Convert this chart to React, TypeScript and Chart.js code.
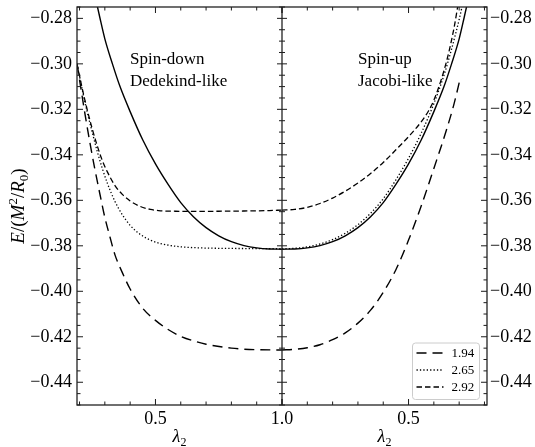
import React, { useEffect, useRef } from "react";
import { Chart, registerables } from "chart.js";

Chart.register(...registerables);

const FONT = '"Liberation Serif", "Times New Roman", serif';

// ---- axes ----
const Y_MIN = -0.45;
const Y_MAX = -0.275;
const yMajorTicks = [-0.44, -0.42, -0.4, -0.38, -0.36, -0.34, -0.32, -0.3, -0.28];
const yMinorStep = 0.005;

// left panel: lambda 0.19 -> 1.0 ; right panel mirrored: 1.0 -> 0.19 (axis value = 2 - lambda)
const LAMBDA_MIN = 0.19;
const xMajorLambda = [0.5, 1.0];
const xMinorLambda = [0.2, 0.3, 0.4, 0.5, 0.6, 0.7, 0.8, 0.9, 1.0];

const legendLabels = ["1.94", "2.65", "2.92"];
const panelLabels = [
  ["Spin-down", "Dedekind-like"],
  ["Spin-up", "Jacobi-like"],
];

// ---- solid curve (same on both panels) ----
const lamSolid = [0.26, 0.28, 0.3, 0.33, 0.36, 0.4, 0.45, 0.5, 0.55, 0.6, 0.65, 0.7, 0.75, 0.8, 0.85, 0.9, 0.95, 1.0];
const eSolid = [-0.2695, -0.2795, -0.289, -0.3, -0.31, -0.321, -0.3335, -0.344, -0.353, -0.361, -0.3672, -0.372, -0.3756, -0.3782, -0.3799, -0.3809, -0.3814, -0.3815];

// ---- left panel (spin-down, Dedekind-like) ----
const lamL194 = [0.19, 0.2, 0.22, 0.24, 0.26, 0.28, 0.3, 0.32, 0.34, 0.37, 0.4, 0.45, 0.5, 0.55, 0.6, 0.65, 0.7, 0.8, 0.9, 1.0];
const eL194 = [-0.3, -0.307, -0.321, -0.334, -0.346, -0.357, -0.3675, -0.376, -0.384, -0.392, -0.399, -0.4075, -0.4128, -0.4168, -0.4198, -0.4218, -0.4233, -0.425, -0.4257, -0.4258];

const lamL265 = [0.19, 0.21, 0.23, 0.25, 0.27, 0.29, 0.31, 0.34, 0.37, 0.4, 0.44, 0.48, 0.52, 0.58, 0.65, 0.75, 0.85, 1.0];
const eL265 = [-0.3, -0.311, -0.321, -0.33, -0.3385, -0.346, -0.3525, -0.3605, -0.3665, -0.371, -0.375, -0.3775, -0.379, -0.3802, -0.3808, -0.3811, -0.3812, -0.3813];

const lamL292 = [0.19, 0.21, 0.23, 0.25, 0.27, 0.29, 0.31, 0.34, 0.37, 0.4, 0.44, 0.48, 0.52, 0.58, 0.65, 0.75, 0.85, 0.95, 1.0];
const eL292 = [-0.3, -0.3105, -0.32, -0.3285, -0.336, -0.3425, -0.3475, -0.3535, -0.3575, -0.3603, -0.3627, -0.364, -0.3646, -0.3648, -0.3649, -0.3648, -0.3647, -0.3645, -0.3643];

// ---- right panel (spin-up, Jacobi-like) ----
const lamR194 = [1.0, 0.95, 0.9, 0.85, 0.8, 0.75, 0.7, 0.65, 0.6, 0.55, 0.5, 0.45, 0.4, 0.35, 0.32, 0.295];
const eR194 = [-0.4258, -0.4255, -0.4248, -0.4235, -0.4213, -0.4183, -0.414, -0.4083, -0.4005, -0.3905, -0.3775, -0.3625, -0.346, -0.329, -0.3175, -0.306];

const lamR265 = [1.0, 0.95, 0.9, 0.85, 0.8, 0.75, 0.7, 0.65, 0.6, 0.55, 0.5, 0.45, 0.4, 0.36, 0.33, 0.3, 0.28];
const eR265 = [-0.3813, -0.3811, -0.3805, -0.3792, -0.3773, -0.3745, -0.3707, -0.3657, -0.3593, -0.351, -0.3415, -0.3305, -0.3175, -0.305, -0.2935, -0.2805, -0.2705];

const lamR292 = [1.0, 0.95, 0.9, 0.85, 0.8, 0.75, 0.7, 0.65, 0.6, 0.55, 0.5, 0.45, 0.42, 0.4, 0.38, 0.36, 0.34, 0.32, 0.3];
const eR292 = [-0.3643, -0.364, -0.3631, -0.3614, -0.359, -0.356, -0.3524, -0.3482, -0.3434, -0.3378, -0.332, -0.3255, -0.3205, -0.316, -0.31, -0.303, -0.2945, -0.284, -0.271];

const toAxisX = (lam: number, mirror: boolean) => (mirror ? 2 - lam : lam);
const pts = (lam: number[], e: number[], mirror: boolean) =>
  lam.map((l, i) => ({ x: toAxisX(l, mirror), y: e[i] }));

const dashFor: Record<string, number[]> = {
  solid: [],
  "1.94": [10, 6],
  "2.65": [1.3, 2.1],
  "2.92": [5.5, 3],
};

const mk = (data: any[], key: string, width: number) => ({
  data,
  borderColor: "#000",
  borderWidth: width,
  borderDash: dashFor[key],
  borderCapStyle: "butt" as const,
  pointRadius: 0,
  fill: false,
  cubicInterpolationMode: "monotone" as const,
  clip: 0,
});

const framePlugin = {
  id: "frameTicks",
  afterDatasetsDraw(chart: any) {
    const { ctx, chartArea: a } = chart;
    const xs = chart.scales.x;
    const ys = chart.scales.y;
    const xm = xs.getPixelForValue(1.0);
    ctx.save();
    ctx.strokeStyle = "#1a1a1a";
    ctx.lineWidth = 1;
    const MAJ = 6;
    const MIN = 3.5;
    ctx.beginPath();
    const nLo = Math.ceil(Y_MIN / yMinorStep - 1e-9);
    const nHi = Math.floor(Y_MAX / yMinorStep + 1e-9);
    for (let k = nLo; k <= nHi; k++) {
      const v = k * yMinorStep;
      const major = yMajorTicks.some((t) => Math.abs(t - v) < 1e-9);
      const L = major ? MAJ : MIN;
      const py = ys.getPixelForValue(v);
      ctx.moveTo(a.left, py);
      ctx.lineTo(a.left + L, py);
      ctx.moveTo(a.right, py);
      ctx.lineTo(a.right - L, py);
      ctx.moveTo(xm - (major ? 5 : 3), py);
      ctx.lineTo(xm + (major ? 5 : 3), py);
    }
    for (const l of xMinorLambda) {
      const major = xMajorLambda.some((t) => Math.abs(t - l) < 1e-9);
      const L = major ? MAJ : MIN;
      for (const xv of [toAxisX(l, false), toAxisX(l, true)]) {
        const px = xs.getPixelForValue(xv);
        ctx.moveTo(px, a.bottom);
        ctx.lineTo(px, a.bottom - L);
        ctx.moveTo(px, a.top);
        ctx.lineTo(px, a.top + L);
      }
    }
    ctx.stroke();
    ctx.lineWidth = 1.3;
    ctx.strokeStyle = "#222";
    ctx.strokeRect(a.left, a.top, a.right - a.left, a.bottom - a.top);
    ctx.beginPath();
    ctx.moveTo(xm, a.top);
    ctx.lineTo(xm, a.bottom);
    ctx.stroke();
    ctx.restore();
  },
};

const textPlugin = {
  id: "texts",
  afterDraw(chart: any) {
    const { ctx, chartArea: a } = chart;
    const xs = chart.scales.x;
    const xm = xs.getPixelForValue(1.0);
    ctx.save();
    ctx.fillStyle = "#000";

    // panel annotations
    ctx.font = `17px ${FONT}`;
    ctx.textAlign = "left";
    ctx.textBaseline = "middle";
    const annX = [130, 358];
    panelLabels.forEach((lines, p) => {
      lines.forEach((t, i) => ctx.fillText(t, annX[p], 60 + i * 22));
    });

    // x titles (lambda_2) centred on each panel
    const centers = [(a.left + xm) / 2, (xm + a.right) / 2];
    for (const c of centers) {
      ctx.font = `italic 18px ${FONT}`;
      const w1 = ctx.measureText("λ").width;
      ctx.font = `12px ${FONT}`;
      const w2 = ctx.measureText("2").width;
      const x0 = c - (w1 + w2) / 2;
      ctx.textBaseline = "alphabetic";
      ctx.font = `italic 18px ${FONT}`;
      ctx.fillText("λ", x0, 442);
      ctx.font = `12px ${FONT}`;
      ctx.fillText("2", x0 + w1, 446);
    }

    // y title E/(M^2/R_0)
    const parts = [
      { t: "E", f: `italic 19px ${FONT}`, dy: 0 },
      { t: "/(", f: `19px ${FONT}`, dy: 0 },
      { t: "M", f: `italic 19px ${FONT}`, dy: 0 },
      { t: "2", f: `13px ${FONT}`, dy: -7 },
      { t: "/", f: `19px ${FONT}`, dy: 0 },
      { t: "R", f: `italic 19px ${FONT}`, dy: 0 },
      { t: "0", f: `13px ${FONT}`, dy: 4 },
      { t: ")", f: `19px ${FONT}`, dy: 0 },
    ];
    let total = 0;
    const widths = parts.map((p) => {
      ctx.font = p.f;
      const w = ctx.measureText(p.t).width;
      total += w;
      return w;
    });
    ctx.translate(24, (a.top + a.bottom) / 2);
    ctx.rotate(-Math.PI / 2);
    ctx.textBaseline = "alphabetic";
    let cx = -total / 2;
    parts.forEach((p, i) => {
      ctx.font = p.f;
      ctx.fillText(p.t, cx, p.dy);
      cx += widths[i];
    });
    ctx.setTransform(1, 0, 0, 1, 0, 0);

    // legend
    const bw = 67;
    const bh = 56.5;
    const bx = a.right - 8 - bw;
    const by = a.bottom - 6 - bh;
    ctx.beginPath();
    if ((ctx as any).roundRect) (ctx as any).roundRect(bx + 0.5, by + 0.5, bw, bh, 3);
    else ctx.rect(bx + 0.5, by + 0.5, bw, bh);
    ctx.fillStyle = "rgba(255,255,255,0.85)";
    ctx.fill();
    ctx.strokeStyle = "#cccccc";
    ctx.lineWidth = 1;
    ctx.stroke();
    ctx.fillStyle = "#000";
    ctx.font = `13px ${FONT}`;
    ctx.textBaseline = "middle";
    ctx.textAlign = "left";
    legendLabels.forEach((lab, i) => {
      const ry = by + 10.5 + i * 17;
      ctx.save();
      ctx.strokeStyle = "#000";
      ctx.lineWidth = lab === "1.94" ? 1.4 : 1.3;
      ctx.setLineDash(dashFor[lab]);
      ctx.beginPath();
      ctx.moveTo(bx + 4.5, ry);
      ctx.lineTo(bx + 31.5, ry);
      ctx.stroke();
      ctx.restore();
      ctx.fillText(lab, bx + 39.5, ry + 0.5);
    });
    ctx.restore();
  },
};

export default function App() {
  const ref = useRef<HTMLCanvasElement>(null);
  useEffect(() => {
    const canvas = ref.current;
    if (!canvas) return;
    const fmtY = (v: number) => v.toFixed(2).replace("-", "\u2212");
    const yScale = (pos: "left" | "right", width: number, pad: number) => ({
      type: "linear" as const,
      position: pos,
      min: Y_MIN,
      max: Y_MAX,
      afterBuildTicks: (s: any) => {
        s.ticks = yMajorTicks.map((v) => ({ value: v }));
      },
      afterFit: (s: any) => {
        s.width = width;
        s.paddingTop = 0;
        s.paddingBottom = 0;
      },
      grid: { display: false, drawTicks: false },
      border: { display: false },
      ticks: {
        autoSkip: false,
        padding: pad,
        color: "#000",
        font: { family: FONT, size: 18 },
        callback: (v: any) => fmtY(Number(v)),
      },
    });
    const chart = new Chart(canvas, {
      type: "line",
      data: {
        datasets: [
          mk(pts(lamSolid, eSolid, false), "solid", 1.4),
          mk(pts(lamSolid, eSolid, true), "solid", 1.4),
          mk(pts(lamL194, eL194, false), "1.94", 1.4),
          mk(pts(lamR194, eR194, true), "1.94", 1.4),
          mk(pts(lamL265, eL265, false), "2.65", 1.3),
          mk(pts(lamR265, eR265, true), "2.65", 1.3),
          mk(pts(lamL292, eL292, false), "2.92", 1.3),
          mk(pts(lamR292, eR292, true), "2.92", 1.3),
        ] as any,
      },
      options: {
        animation: false,
        responsive: false,
        devicePixelRatio: 1,
        layout: { padding: { top: 7, left: 0, right: 0, bottom: 0 } },
        plugins: {
          legend: { display: false },
          tooltip: { enabled: false },
          title: { display: false },
        },
        scales: {
          x: {
            type: "linear",
            min: LAMBDA_MIN,
            max: 2 - LAMBDA_MIN,
            afterBuildTicks: (s: any) => {
              const vals: number[] = [];
              xMajorLambda.forEach((l) => {
                vals.push(toAxisX(l, false));
                if (l !== 1) vals.push(toAxisX(l, true));
              });
              s.ticks = vals.sort((p, q) => p - q).map((v) => ({ value: v }));
            },
            afterFit: (s: any) => {
              s.height = 42;
              s.paddingLeft = 0;
              s.paddingRight = 0;
            },
            grid: { display: false, drawTicks: false },
            border: { display: false },
            ticks: {
              autoSkip: false,
              maxRotation: 0,
              minRotation: 0,
              padding: 3,
              color: "#000",
              font: { family: FONT, size: 18 },
              callback: (v: any) => {
                const n = Number(v);
                return (n <= 1 + 1e-9 ? n : 2 - n).toFixed(1);
              },
            },
          },
          y: yScale("left", 77, 5),
          y2: yScale("right", 48, 3),
        } as any,
      },
      plugins: [framePlugin, textPlugin],
    });
    return () => chart.destroy();
  }, []);
  return (
    <div style={{ position: "fixed", left: 0, top: 0, width: 535, height: 447, background: "#fff" }}>
      <canvas ref={ref} width={535} height={447} style={{ display: "block", width: 535, height: 447 }} />
    </div>
  );
}
